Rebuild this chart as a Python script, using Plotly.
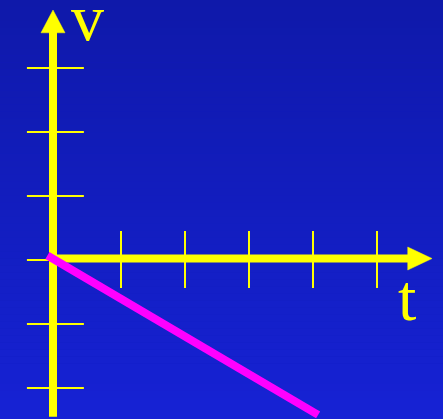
import plotly.graph_objects as go

# ---- data ----
t_ticks = [1, 2, 3, 4, 5]
v_ticks = [-2, -1, 0, 1, 2, 3]
line_t = [-0.15, 4.08]
line_v = [0.07, -2.42]

# ---- drawing constants ----
W, H = 443, 419
PX = 64.0            # pixels per unit
X0, Y0 = 57.0, 260.0  # pixel of (0,0)
AXIS_T = -0.0625     # vertical axis position
AXIS_V = 0.023       # horizontal axis position
YELLOW = "#FFFF00"
MAGENTA = "#FF00FF"

xr = [-X0 / PX, (W - X0) / PX]
yr = [(Y0 - H) / PX, Y0 / PX]

fig = go.Figure()

# background gradient
top = (15, 25, 170)
bot = (22, 34, 212)
N = 60
shapes = []
for i in range(N):
    f = i / (N - 1)
    c = tuple(round(top[k] + (bot[k] - top[k]) * f) for k in range(3))
    shapes.append(dict(type="rect", xref="paper", yref="paper",
                       x0=0, x1=1, y0=1 - (i + 1) / N, y1=1 - i / N,
                       fillcolor="rgb(%d,%d,%d)" % c, line=dict(width=0),
                       layer="below"))

# tick marks
tx, ty = [], []
for t in t_ticks:
    tx += [t, t, None]
    ty += [0.453, -0.4375, None]
vx, vy = [], []
for v in v_ticks:
    vx += [-0.47, 0.42, None]
    vy += [v, v, None]
fig.add_trace(go.Scatter(x=tx, y=ty, mode="lines", line=dict(color=YELLOW, width=2),
                         hoverinfo="skip"))
fig.add_trace(go.Scatter(x=vx, y=vy, mode="lines", line=dict(color=YELLOW, width=2),
                         hoverinfo="skip"))

# axes
v_bottom, v_base, v_tip = -2.45, 3.55, 3.906
t_left, t_base, t_tip = -0.125, 5.48, 5.86
fig.add_trace(go.Scatter(x=[AXIS_T, AXIS_T], y=[v_bottom, v_base + 0.02], mode="lines",
                         line=dict(color=YELLOW, width=8), hoverinfo="skip"))
fig.add_trace(go.Scatter(x=[t_left, t_base + 0.02], y=[AXIS_V, AXIS_V], mode="lines",
                         line=dict(color=YELLOW, width=8), hoverinfo="skip"))
hw = 12 / PX
fig.add_trace(go.Scatter(x=[AXIS_T - hw, AXIS_T + hw, AXIS_T, AXIS_T - hw],
                         y=[v_base, v_base, v_tip, v_base], mode="lines", fill="toself",
                         fillcolor=YELLOW, line=dict(color=YELLOW, width=0.5), hoverinfo="skip"))
hh = 11.5 / PX
fig.add_trace(go.Scatter(x=[t_base, t_base, t_tip, t_base],
                         y=[AXIS_V - hh, AXIS_V + hh, AXIS_V, AXIS_V - hh], mode="lines",
                         fill="toself", fillcolor=YELLOW,
                         line=dict(color=YELLOW, width=0.5), hoverinfo="skip"))

# magenta line
fig.add_trace(go.Scatter(x=line_t, y=line_v, mode="lines",
                         line=dict(color=MAGENTA, width=8), hoverinfo="skip"))

fig.add_annotation(x=0.484, y=(Y0 - 17) / PX, text="v", showarrow=False,
                   xanchor="center", yanchor="middle",
                   font=dict(family="Liberation Serif", size=66, color=YELLOW))
fig.add_annotation(x=5.47, y=(Y0 - 297) / PX, text="t", showarrow=False,
                   xanchor="center", yanchor="middle",
                   font=dict(family="Liberation Serif", size=66, color=YELLOW))

fig.update_layout(
    width=W, height=H, margin=dict(l=0, r=0, t=0, b=0),
    paper_bgcolor="rgb(18,30,190)", plot_bgcolor="rgba(0,0,0,0)",
    showlegend=False, shapes=shapes,
    xaxis=dict(range=xr, visible=False, fixedrange=True),
    yaxis=dict(range=yr, visible=False, fixedrange=True),
)
fig.write_html("out.html", config={"displayModeBar": False},
               post_script="document.body.style.margin='0';document.body.style.overflow='hidden';")
